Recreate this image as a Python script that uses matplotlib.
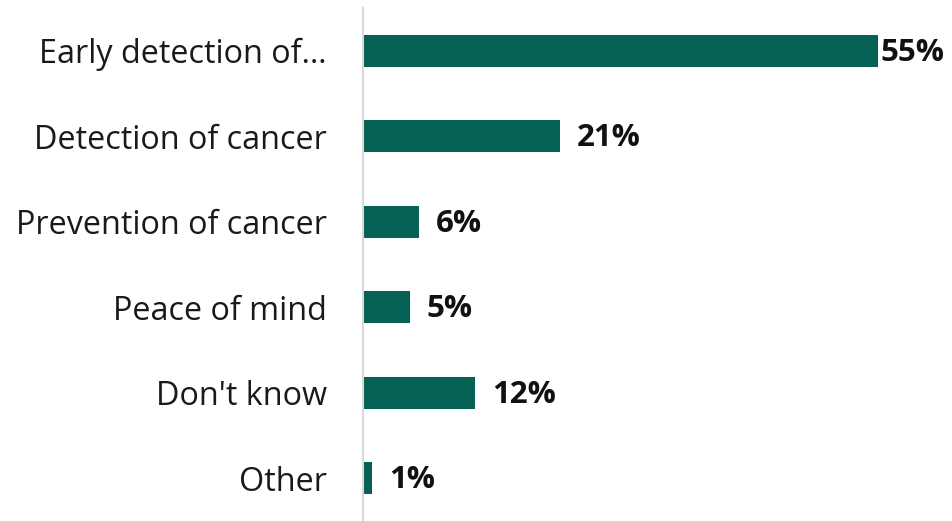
import matplotlib.pyplot as plt

# Survey responses
categories = ["Early detection of\u2026", "Detection of cancer", "Prevention of cancer",
              "Peace of mind", "Don't know", "Other"]
values = [55, 21, 6, 5, 12, 1]

bar_color = "#046153"

fig = plt.figure(figsize=(9.53, 5.21), dpi=100)
ax = fig.add_axes([363 / 953, 0, 590 / 953, 513 / 521])

ypos = list(range(len(categories)))
ax.barh(ypos, values, height=0.375, color=bar_color)

ax.set_xlim(0, 63)
ax.set_ylim(len(categories) - 0.5, -0.5)

ax.set_yticks(ypos)
ax.set_yticklabels(categories, fontsize=23.3, fontfamily="Open Sans", color="#1a1a1a")
ax.tick_params(axis="y", length=0, pad=26)
ax.set_xticks([])

for side in ["top", "right", "bottom"]:
    ax.spines[side].set_visible(False)
ax.spines["left"].set_color("#d9d9d9")
ax.spines["left"].set_linewidth(1.5)

# Value labels
for y, v in zip(ypos, values):
    off = 1.5 if v == max(values) else 12
    ax.annotate(f"{v}%", xy=(v, y), xytext=(off, -1.5), textcoords="offset points",
                va="center", ha="left", fontsize=22.5, fontweight="bold",
                fontfamily="Open Sans", color="#111111")

fig.savefig("out.png", dpi=100, facecolor="white")
